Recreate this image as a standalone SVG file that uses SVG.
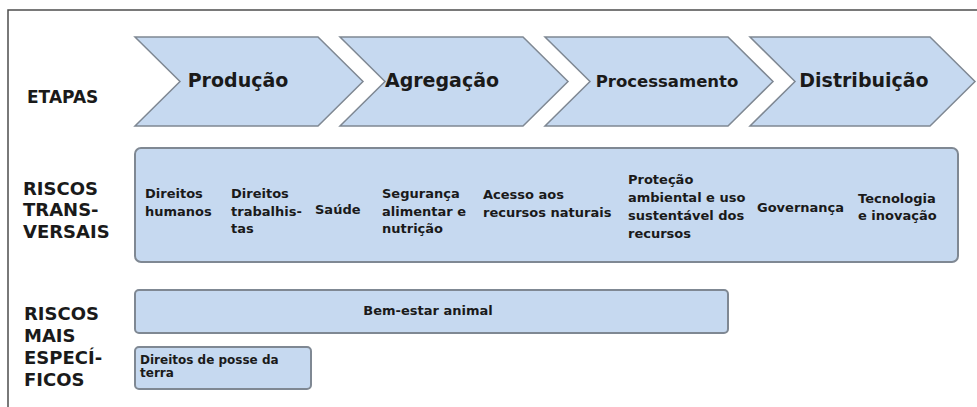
<svg xmlns="http://www.w3.org/2000/svg" width="977" height="407" viewBox="0 0 977 407">
<style>
  text { font-family: "DejaVu Sans", "Liberation Sans", sans-serif; font-weight: bold; fill: #1a1a1a; }
  .chev { fill: #c6d9f0; stroke: #7f8893; stroke-width: 1.5; stroke-linejoin: miter; }
  .box { fill: #c6d9f0; stroke: #7f8893; stroke-width: 2; }
  .stage { font-size: 19px; text-anchor: middle; }
  .row { font-size: 18px; }
  .item { font-size: 13px; }
  .small { font-size: 12px; }
</style>
<rect width="977" height="407" fill="#ffffff"/>
<path d="M8,407 V10 H977" fill="none" stroke="#4d4d4d" stroke-width="1.5"/>

<g id="label-etapas"><text class="row" x="27" y="103" style="font-size:17px">ETAPAS</text></g>
<g id="label-transversais">
  <text class="row" x="23" y="195">RISCOS</text>
  <text class="row" x="23" y="216">TRANS-</text>
  <text class="row" x="23" y="238">VERSAIS</text>
</g>
<g id="label-especificos">
  <text class="row" x="24" y="320">RISCOS</text>
  <text class="row" x="24" y="342">MAIS</text>
  <text class="row" x="24" y="364">ESPECÍ-</text>
  <text class="row" x="24" y="386">FICOS</text>
</g>

<g id="stage-producao">
  <polygon class="chev" points="135,37 318,37 363,81.5 318,126 135,126 180,81.5"/>
  <text class="stage" x="238" y="87">Produção</text>
</g>
<g id="stage-agregacao">
  <polygon class="chev" points="340,37 523,37 568,81.5 523,126 340,126 385,81.5"/>
  <text class="stage" x="442" y="87">Agregação</text>
</g>
<g id="stage-processamento">
  <polygon class="chev" points="545,37 728,37 773,81.5 728,126 545,126 590,81.5"/>
  <text class="stage" x="667" y="87" style="font-size:16.5px">Processamento</text>
</g>
<g id="stage-distribuicao">
  <polygon class="chev" points="750,37 930,37 975,81.5 930,126 750,126 795,81.5"/>
  <text class="stage" x="864" y="87">Distribuição</text>
</g>

<g id="riscos-transversais">
  <rect class="box" x="135" y="148" width="823" height="114" rx="6" ry="6"/>
  <text class="item" x="145" y="198">Direitos</text>
  <text class="item" x="145" y="215.5">humanos</text>
  <text class="item" x="231" y="198">Direitos</text>
  <text class="item" x="231" y="215.5">trabalhis-</text>
  <text class="item" x="231" y="233">tas</text>
  <text class="item" x="315" y="213.5">Saúde</text>
  <text class="item" x="382" y="198">Segurança</text>
  <text class="item" x="382" y="215.5">alimentar e</text>
  <text class="item" x="382" y="233">nutrição</text>
  <text class="item" x="483" y="199">Acesso aos</text>
  <text class="item" x="483" y="217">recursos naturais</text>
  <text class="item" x="628" y="184">Proteção</text>
  <text class="item" x="628" y="202">ambiental e uso</text>
  <text class="item" x="628" y="220">sustentável dos</text>
  <text class="item" x="628" y="238">recursos</text>
  <text class="item" x="757" y="212">Governança</text>
  <text class="item" x="858" y="203">Tecnologia</text>
  <text class="item" x="858" y="220">e inovação</text>
</g>

<g id="bem-estar-animal">
  <rect class="box" x="135" y="290" width="593" height="43" rx="4" ry="4"/>
  <text class="item" x="428" y="315" text-anchor="middle">Bem-estar animal</text>
</g>

<g id="direitos-posse-terra">
  <rect class="box" x="135" y="347" width="176" height="42" rx="4" ry="4"/>
  <text class="small" x="140" y="364">Direitos de posse da</text>
  <text class="small" x="140" y="377">terra</text>
</g>
</svg>
